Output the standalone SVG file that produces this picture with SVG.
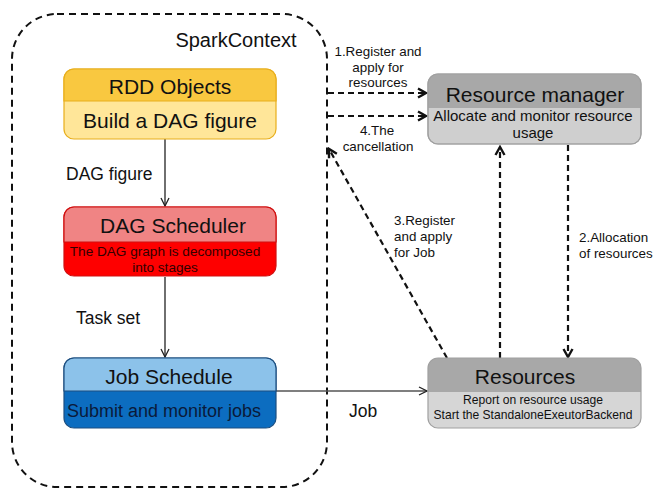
<svg xmlns="http://www.w3.org/2000/svg" width="656" height="489" viewBox="0 0 656 489">
<defs>
<style>
text{font-family:"Liberation Sans",Arial,sans-serif;fill:#111}
.t{font-size:21px;text-anchor:middle}
.lbl{font-size:13.4px}
.c{text-anchor:middle}
.dash{fill:none;stroke:#111;stroke-width:2.2;stroke-dasharray:6 4}
.solid{fill:none;stroke:#222;stroke-width:1.3}
</style>
<marker id="ah" viewBox="0 0 10 10" refX="9" refY="5" markerWidth="10" markerHeight="10" markerUnits="userSpaceOnUse" orient="auto">
<path d="M1,1 L9,5 L1,9" fill="none" stroke="#222" stroke-width="1.3"/>
</marker>
<marker id="dh" viewBox="0 0 12 12" refX="10" refY="6" markerWidth="12" markerHeight="12" markerUnits="userSpaceOnUse" orient="auto">
<path d="M2,1.5 L10,6 L2,10.5" fill="none" stroke="#111" stroke-width="2.4"/>
</marker>
</defs>

<g id="sparkcontext">
<rect x="12" y="14" width="315" height="473" rx="45" ry="45" fill="none" stroke="#111" stroke-width="2" stroke-dasharray="7 5"/>
<text x="236" y="47" style="font-size:20px" class="c">SparkContext</text>
</g>

<g id="connectors">
<line class="solid" x1="165" y1="139" x2="165" y2="206" marker-end="url(#ah)"/>
<line class="solid" x1="165" y1="277" x2="165" y2="357" marker-end="url(#ah)"/>
<line x1="276" y1="391" x2="427" y2="391" stroke="#555" stroke-width="1.3" marker-end="url(#ah)"/>
<line class="dash" x1="328" y1="93" x2="426" y2="93" marker-end="url(#dh)"/>
<line class="dash" x1="328" y1="116" x2="426" y2="116" marker-end="url(#dh)"/>
<line class="dash" x1="447" y1="358" x2="329" y2="149" marker-end="url(#dh)"/>
<line class="dash" x1="500" y1="358" x2="500" y2="147" marker-end="url(#dh)"/>
<line class="dash" x1="568" y1="145" x2="568" y2="357" marker-end="url(#dh)"/>
<text x="66" y="180" style="font-size:17.5px">DAG figure</text>
<text x="76" y="324" style="font-size:17.5px">Task set</text>
<text x="349" y="417" style="font-size:17.5px">Job</text>
<text class="lbl c" x="378" y="56">1.Register and</text>
<text class="lbl c" x="378" y="72">apply for</text>
<text class="lbl c" x="378" y="87">resources</text>
<text class="lbl c" x="377" y="135">4.The</text>
<text class="lbl c" x="378" y="151">cancellation</text>
<text class="lbl" x="394" y="225">3.Register</text>
<text class="lbl" x="394" y="241">and apply</text>
<text class="lbl" x="394" y="257">for Job</text>
<text class="lbl" x="579" y="242">2.Allocation</text>
<text class="lbl" x="579" y="258">of resources</text>
</g>

<g id="rdd">
<rect x="64" y="69" width="212" height="70" rx="10" fill="#FFE699" stroke="#E8AE1C" stroke-width="1.2"/>
<path d="M64,101 V79 A10,10 0 0 1 74,69 H266 A10,10 0 0 1 276,79 V101 Z" fill="#F9C840" stroke="#E8AE1C" stroke-width="1.2"/>
<text class="t" x="170" y="94">RDD Objects</text>
<text class="t" x="170" y="128">Build a DAG figure</text>
</g>

<g id="dagscheduler">
<rect x="64" y="207" width="212" height="69" rx="10" fill="#FE0000" stroke="#D01010" stroke-width="1.2"/>
<path d="M64,242 V217 A10,10 0 0 1 74,207 H266 A10,10 0 0 1 276,217 V242 Z" fill="#F08484" stroke="#D01010" stroke-width="1.2"/>
<text class="t" x="173" y="233">DAG Scheduler</text>
<text x="165" y="256" class="c" style="font-size:13.6px;fill:#300">The DAG graph is decomposed</text>
<text x="165" y="272" class="c" style="font-size:13.6px;fill:#300">into stages</text>
</g>

<g id="jobschedule">
<rect x="64" y="358" width="212" height="70" rx="10" fill="#0C6DC0" stroke="#1D4F80" stroke-width="1.2"/>
<path d="M64,391 V368 A10,10 0 0 1 74,358 H266 A10,10 0 0 1 276,368 V391 Z" fill="#8CC2EA" stroke="#1D4F80" stroke-width="1.2"/>
<text class="t" x="169" y="384">Job Schedule</text>
<text x="67" y="417" style="font-size:18px;fill:#0A1A3A">Submit and monitor jobs</text>
</g>

<g id="resourcemanager">
<rect x="428" y="74" width="213" height="70" rx="10" fill="#CFCFCF" stroke="#A8A8A8" stroke-width="1.2"/>
<path d="M428,108 V84 A10,10 0 0 1 438,74 H631 A10,10 0 0 1 641,84 V108 Z" fill="#A8A8A8"/>
<rect x="428" y="74" width="213" height="70" rx="10" fill="none" stroke="#A0A0A0" stroke-width="1.2"/>
<text class="t" x="535" y="102">Resource manager</text>
<text x="533" y="121" class="c" style="font-size:15px">Allocate and monitor resource</text>
<text x="533" y="138" class="c" style="font-size:15px">usage</text>
</g>

<g id="resources">
<rect x="428" y="358" width="213" height="70" rx="10" fill="#D6D6D6"/>
<path d="M428,392 V368 A10,10 0 0 1 438,358 H631 A10,10 0 0 1 641,368 V392 Z" fill="#A8A8A8"/>
<rect x="428" y="358" width="213" height="70" rx="10" fill="none" stroke="#A0A0A0" stroke-width="1.2"/>
<text class="t" x="525" y="384">Resources</text>
<text x="533" y="404" class="c" style="font-size:12.1px">Report on resource usage</text>
<text x="533" y="419" class="c" style="font-size:12.1px">Start the StandaloneExeutorBackend</text>
</g>
</svg>
